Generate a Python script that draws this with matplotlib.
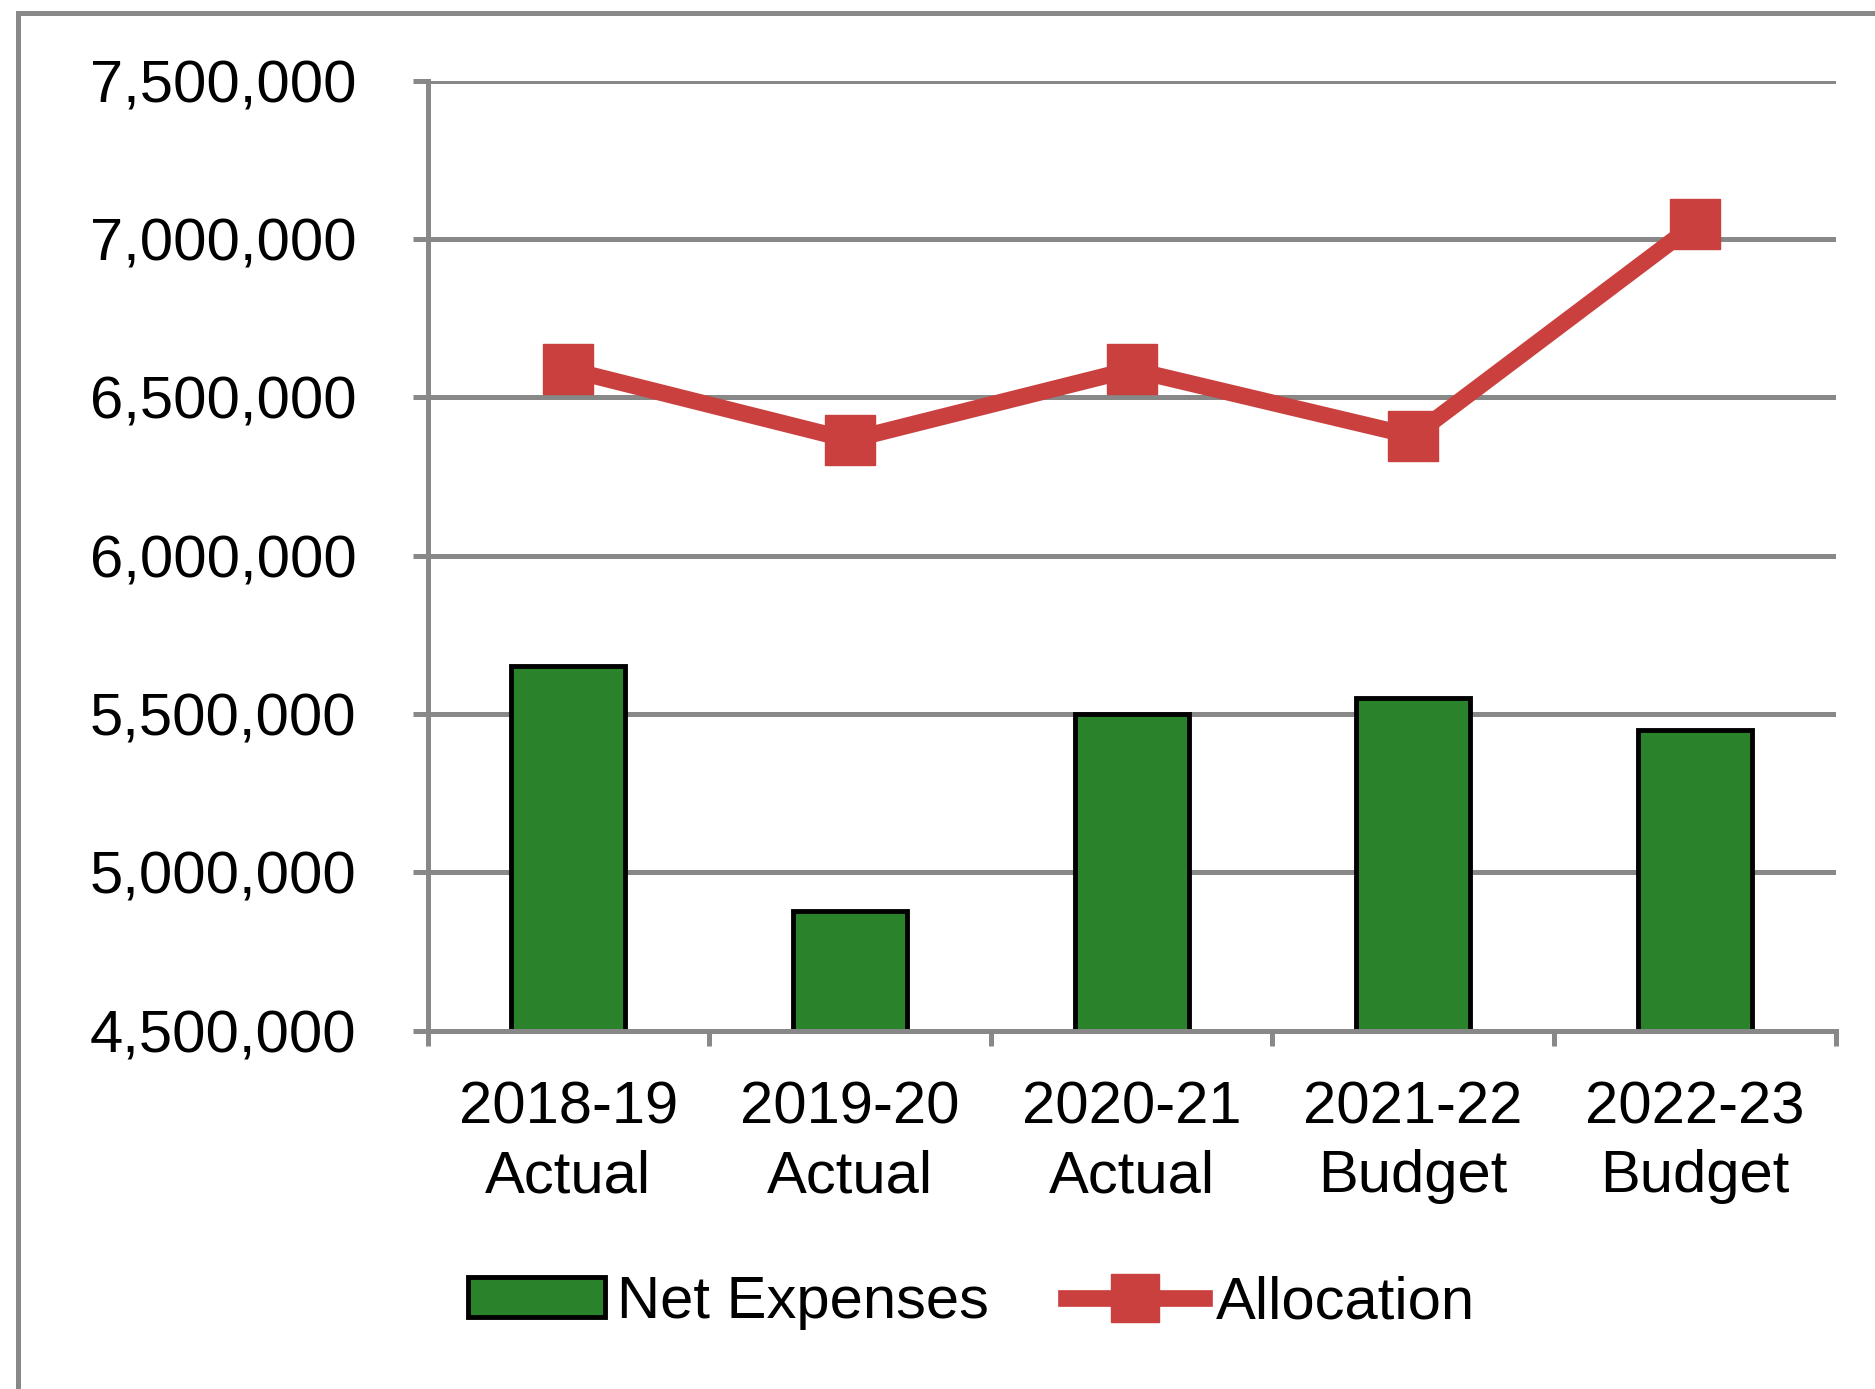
import matplotlib
matplotlib.use("Agg")
import matplotlib.pyplot as plt
from matplotlib.lines import Line2D
from matplotlib.patches import Patch
from matplotlib.ticker import FuncFormatter, FixedLocator
import numpy as np

# data
years = ["2018-19", "2019-20", "2020-21", "2021-22", "2022-23"]
kinds = ["Actual", "Actual", "Actual", "Budget", "Budget"]
net_expenses = [5650000, 4878000, 5500000, 5550000, 5450000]
allocation = [6588000, 6365000, 6588000, 6377000, 7047000]

green = "#2a832a"
red = "#c9403e"
grid_gray = "#888888"

plt.rcParams["font.family"] = ["Liberation Sans", "DejaVu Sans"]

fig = plt.figure(figsize=(18.75, 13.89), dpi=100)
ax = fig.add_axes([0.228, 0.258, 0.751, 0.684])

x = np.arange(len(years))
ax.bar(x, net_expenses, width=0.405, color=green, edgecolor="black",
       linewidth=3.5, zorder=2)
ax.plot(x, allocation, color=red, linewidth=12, marker="s", markersize=36,
        markerfacecolor=red, markeredgecolor=red, zorder=3)

ax.set_ylim(4500000, 7500000)
ax.set_xlim(-0.5, len(years) - 0.5)
ax.set_yticks(np.arange(4500000, 7500001, 500000))
ax.yaxis.set_major_formatter(FuncFormatter(lambda v, p: f"{int(v):,}"))
ax.grid(axis="y", color=grid_gray, linewidth=3.6)
ax.set_axisbelow(True)

# ticks between categories, labels in the middle
ax.xaxis.set_major_locator(FixedLocator(np.arange(-0.5, len(years), 1.0)))
ax.xaxis.set_major_formatter(FuncFormatter(lambda v, p: ""))
ax.xaxis.set_minor_locator(FixedLocator(x))
ax.set_xticklabels([f"{y}\n{k}" for y, k in zip(years, kinds)], minor=True)
ax.tick_params(axis="x", which="major", length=11, width=3.6, color=grid_gray)
ax.tick_params(axis="x", which="minor", length=0, pad=36, labelsize=43)
for t in ax.get_xticklabels(minor=True):
    t.set_linespacing(1.32)
ax.tick_params(axis="y", length=11, width=3.6, color=grid_gray, pad=40,
               labelsize=43)

for s in ["top", "right"]:
    ax.spines[s].set_visible(False)
for s in ["left", "bottom"]:
    ax.spines[s].set_color(grid_gray)
    ax.spines[s].set_linewidth(3.6)

handles = [
    Patch(facecolor=green, edgecolor="black", linewidth=3.5, label="Net Expenses"),
    Line2D([0], [0], color=red, linewidth=12, marker="s", markersize=34,
           markerfacecolor=red, markeredgecolor=red, label="Allocation"),
]
fig.legend(handles=handles, loc="center", bbox_to_anchor=(0.518, 0.062),
           ncol=2, frameon=False, fontsize=43, handlelength=2.3,
           handleheight=0.65, handletextpad=0.2, columnspacing=1.3,
           numpoints=1)

# outer chart border (cut off at the right and bottom)
fig.add_artist(Line2D([18 / 1875, 18 / 1875], [0, 1 - 13 / 1389],
                      transform=fig.transFigure, color=grid_gray, linewidth=3.6))
fig.add_artist(Line2D([18 / 1875, 1], [1 - 13 / 1389, 1 - 13 / 1389],
                      transform=fig.transFigure, color=grid_gray, linewidth=3.6))

fig.savefig("out.png", dpi=100)
